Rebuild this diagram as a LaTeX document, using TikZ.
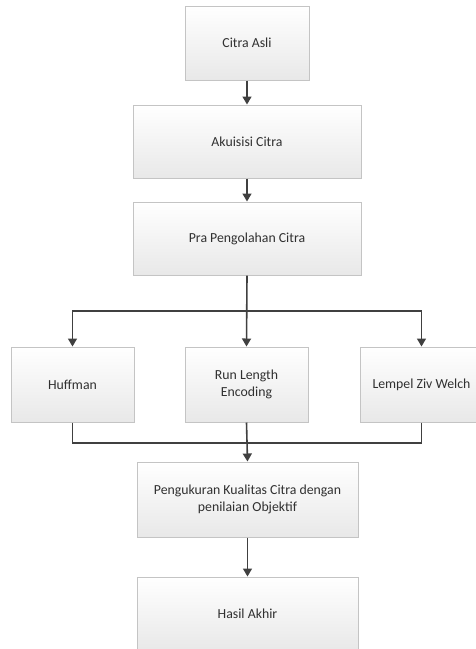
\documentclass[tikz,border=0pt]{standalone}
\usepackage{fontspec}
\setmainfont{Carlito}
\usetikzlibrary{arrows.meta,shadows}

\definecolor{boxline}{HTML}{C4C4C4}
\definecolor{conline}{HTML}{404040}
\definecolor{txt}{HTML}{303030}

\begin{document}
\begin{tikzpicture}[
  x=1pt, y=-1pt,
  box/.style={draw=boxline, line width=1pt, top color=white, bottom color=black!9,
    drop shadow={shadow xshift=1.2pt, shadow yshift=-1.2pt, fill=black!18, opacity=0.6},
    text=txt, font=\fontsize{13.8}{16.5}\selectfont, align=center, inner sep=2pt},
  arr/.style={-{Triangle[length=8pt, width=9pt]}, line width=1.6pt, draw=conline},
  lin/.style={line width=1.6pt, draw=conline}
]
\useasboundingbox (0,0) rectangle (476,649);

% Main column
\node[box, minimum width=124pt, minimum height=74pt] (asli) at (247,43) {Citra Asli};
\node[box, minimum width=228pt, minimum height=73pt] (akuisisi) at (247,141.5) {Akuisisi Citra};
\node[box, minimum width=228pt, minimum height=73pt] (pra) at (247,238.5) {Pra Pengolahan Citra};

% Compression methods
\node[box, minimum width=123pt, minimum height=75pt] (huff) at (72.5,384.5) {Huffman};
\node[box, minimum width=123pt, minimum height=75pt] (rle) at (246.5,384.5) {Run Length\\Encoding};
\node[box, minimum width=123pt, minimum height=75pt] (lzw) at (421.5,384.5) {Lempel Ziv Welch};

% Evaluation
\node[box, minimum width=221pt, minimum height=75pt] (ukur) at (247.5,499.5) {Pengukuran Kualitas Citra dengan\\penilaian Objektif};
\node[box, minimum width=221pt, minimum height=74pt] (hasil) at (247.5,614) {Hasil Akhir};

\coordinate (split) at (247,311);
\coordinate (join) at (247,443);

% Connectors
\draw[arr] (asli) -- (akuisisi);
\draw[arr] (akuisisi) -- (pra);
\draw[arr] (pra.south) -- (rle.north);
\draw[arr] (split) -| (huff.north);
\draw[arr] (split) -| (lzw.north);
\draw[lin] (huff.south) |- (join);
\draw[lin] (lzw.south) |- (join);
\draw[arr] (rle.south) -- (ukur.north);
\draw[arr] (ukur) -- (hasil);

\end{tikzpicture}
\end{document}
